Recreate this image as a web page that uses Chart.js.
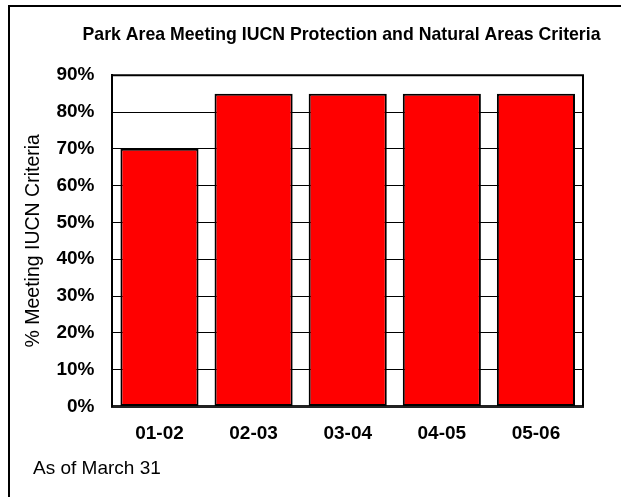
<!DOCTYPE html>
<html>
<head>
<meta charset="utf-8">
<script src="https://cdn.jsdelivr.net/npm/chart.js@4"></script>
<style>
  html, body { margin: 0; padding: 0; background: #fff; }
  #wrap { width: 621px; height: 497px; position: relative; }
</style>
</head>
<body>
<div id="wrap"><canvas id="myBarChart"></canvas></div>
<script>
var years = ['01-02', '02-03', '03-04', '04-05', '05-06'];
var meetingCriteria = [70, 85, 85, 85, 85];
var yTicks = [0, 10, 20, 30, 40, 50, 60, 70, 80, 90];

var fontFamily = 'Arial, "Liberation Sans", sans-serif';

// frame around plot area and the outer box lines (top / left)
var framePlugin = {
  id: 'frame',
  afterLayout: function(chart) {
    // title is a bit wider than the plot, widen its box so it is not squeezed
    var tb = chart.titleBlock;
    if (tb) {
      tb.left = 61;
      tb.right = 622;
      tb.width = tb.right - tb.left;
    }
  },
  afterDatasetsDraw: function(chart) {
    var ctx = chart.ctx;
    var a = chart.chartArea;
    ctx.save();
    ctx.strokeStyle = '#000';
    ctx.lineWidth = 2;
    ctx.beginPath();
    ctx.moveTo(a.left, a.top);
    ctx.lineTo(a.right, a.top);
    ctx.lineTo(a.right, a.bottom);
    ctx.stroke();
    ctx.beginPath();
    ctx.moveTo(9, chart.height);
    ctx.lineTo(9, 6);
    ctx.lineTo(chart.width, 6);
    ctx.stroke();
    ctx.restore();
  }
};

var data = {
  labels: years,
  datasets: [{
    label: '% Meeting IUCN Criteria',
    data: meetingCriteria,
    backgroundColor: '#ff0000',
    borderColor: '#000',
    borderWidth: 2,
    borderSkipped: false,
    barPercentage: 0.83,
    categoryPercentage: 1.0
  }]
};

var options = {
  responsive: true,
  maintainAspectRatio: false,
  animation: false,
  layout: {
    padding: { top: 18, left: 33, right: 38, bottom: 10 }
  },
  scales: {
    x: {
      grid: { display: false, drawTicks: false },
      border: { display: true, color: '#222', width: 3 },
      ticks: {
        color: '#000',
        padding: 16,
        font: { family: fontFamily, size: 19, weight: 'bold' }
      }
    },
    y: {
      min: 0,
      max: 90,
      afterBuildTicks: function(axis) {
        axis.ticks = yTicks.map(function(v) { return { value: v }; });
      },
      grid: { color: '#000', lineWidth: 1, drawTicks: false },
      border: { display: true, color: '#000', width: 2 },
      ticks: {
        color: '#000',
        padding: 18,
        font: { family: fontFamily, size: 19, weight: 'bold' },
        callback: function(v) { return v + '%'; }
      },
      title: {
        display: true,
        text: '% Meeting IUCN Criteria',
        color: '#000',
        padding: { top: -11, bottom: -7 },
        font: { family: fontFamily, size: 19.5, weight: 'normal' }
      }
    }
  },
  plugins: {
    legend: { display: false },
    tooltip: { enabled: false },
    title: {
      display: true,
      text: 'Park Area Meeting IUCN Protection and Natural Areas Criteria',
      color: '#000',
      fullSize: false,
      padding: { top: 6, bottom: 30 },
      font: { family: fontFamily, size: 17.7, weight: 'bold' }
    },
    subtitle: {
      display: true,
      position: 'bottom',
      align: 'start',
      text: 'As of March 31',
      color: '#000',
      padding: { top: -4, bottom: 7 },
      font: { family: fontFamily, size: 19, weight: 'normal' }
    }
  }
};

var ctx = document.getElementById('myBarChart').getContext('2d');
var myBarChart = new Chart(ctx, {
  type: 'bar',
  data: data,
  options: options,
  plugins: [framePlugin]
});
</script>
</body>
</html>
